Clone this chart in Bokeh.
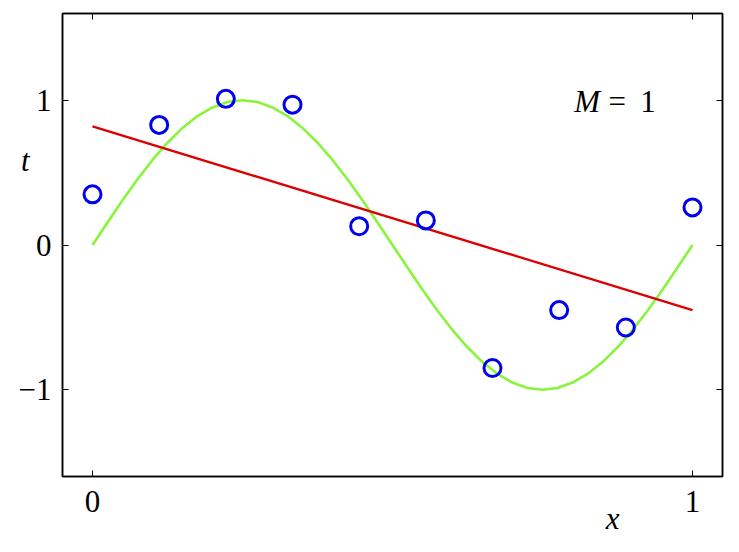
from bokeh.plotting import figure
from bokeh.models import LinearAxis, FixedTicker, Range1d, Label
from bokeh.embed import file_html
from bokeh.resources import INLINE

# data points (observations)
pts_x = [0.0, 1/9, 2/9, 3/9, 4/9, 5/9, 6/9, 7/9, 8/9, 1.0]
pts_t = [0.35, 0.83, 1.01, 0.97, 0.13, 0.17, -0.85, -0.45, -0.57, 0.26]

# fitted M=1 line endpoints
fit_x = [0.0, 1.0]
fit_t = [0.82, -0.45]

# true curve samples
curve_x = [i / 40 for i in range(41)]
curve_t = [0.0, 0.156, 0.309, 0.454, 0.588, 0.707, 0.809, 0.891, 0.951, 0.988, 1.0,
           0.988, 0.951, 0.891, 0.809, 0.707, 0.588, 0.454, 0.309, 0.156, 0.0,
           -0.156, -0.309, -0.454, -0.588, -0.707, -0.809, -0.891, -0.951, -0.988, -1.0,
           -0.988, -0.951, -0.891, -0.809, -0.707, -0.588, -0.454, -0.309, -0.156, 0.0]

x_ticks = [0, 1]
y_ticks = [-1, 0, 1]
x_label_pos = 0.867   # where the "x" label sits along the x axis
t_label_pos = 0.584   # where the "t" label sits along the y axis

FONT = "Liberation Serif"
FS = "31px"
H = 544

p = figure(width=731, height=H, output_backend="svg", toolbar_location=None,
           x_range=Range1d(-0.05, 1.05), y_range=Range1d(-1.6, 1.6),
           x_axis_location=None, y_axis_location=None,
           min_border_left=62, min_border_right=9, min_border_top=13, min_border_bottom=68)
p.grid.visible = False
p.outline_line_color = "black"
p.outline_line_width = 1.5
p.background_fill_color = "white"
p.border_fill_color = "white"

def mk_axis(ticks, labels):
    ax = LinearAxis(ticker=FixedTicker(ticks=ticks))
    ax.axis_line_color = "black"
    ax.axis_line_width = 1.5
    ax.major_tick_in = 6
    ax.major_tick_out = 0
    ax.major_tick_line_width = 1
    ax.minor_tick_line_color = None
    ax.major_label_text_font = FONT
    ax.major_label_text_font_size = FS
    ax.major_label_text_color = "black"
    if not labels:
        ax.major_label_text_font_size = "0px"
        ax.major_label_text_alpha = 0
    return ax

def name_axis(pos, text, standoff):
    ax = LinearAxis(ticker=FixedTicker(ticks=[pos]))
    ax.axis_line_color = None
    ax.major_tick_line_color = None
    ax.minor_tick_line_color = None
    ax.major_tick_in = 0
    ax.major_tick_out = 0
    ax.major_label_overrides = {pos: text}
    ax.major_label_text_font = FONT
    ax.major_label_text_font_style = "italic"
    ax.major_label_text_font_size = FS
    ax.major_label_text_color = "black"
    ax.major_label_standoff = standoff
    return ax

bx = mk_axis(x_ticks, True)
bx.major_label_standoff = 14
p.add_layout(bx, "below")
p.add_layout(name_axis(x_label_pos, "x", -14), "below")
tx = mk_axis(x_ticks, False)
p.add_layout(tx, "above")
ly = mk_axis(y_ticks, True)
ly.major_label_standoff = 11
ly.major_label_overrides = {-1: "\u22121", 0: "0", 1: "1"}
p.add_layout(ly, "left")
p.add_layout(name_axis(t_label_pos, "t", -14), "left")
ry = mk_axis(y_ticks, False)
p.add_layout(ry, "right")

p.line(curve_x, curve_t, line_color="#88f53c", line_width=2.6)
p.line(fit_x, fit_t, line_color="#dd0000", line_width=2.4)
p.scatter(pts_x, pts_t, marker="circle", size=17, fill_color=None,
          line_color="#0000ee", line_width=3)

p.add_layout(Label(x=0.803, y=0.99, text="M", text_font=FONT, text_font_style="italic",
                   text_color="black", text_font_size=FS, text_align="left",
                   text_baseline="middle"))
p.add_layout(Label(x=0.86, y=0.99, text="=", text_font=FONT, text_color="black",
                   text_font_size=FS, text_align="left", text_baseline="middle"))
p.add_layout(Label(x=0.913, y=0.99, text="1", text_font=FONT, text_color="black",
                   text_font_size=FS, text_align="left", text_baseline="middle"))

open("out.html", "w").write(file_html(p, INLINE))
